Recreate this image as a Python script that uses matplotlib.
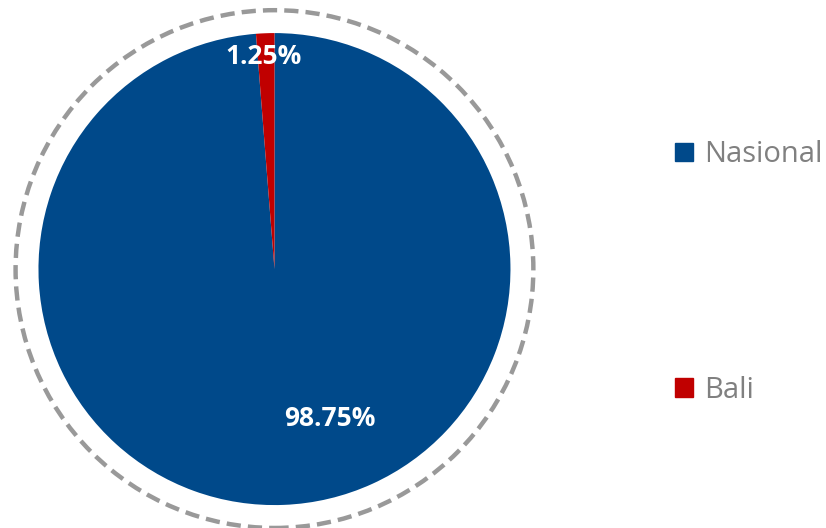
import matplotlib
matplotlib.use("Agg")
import matplotlib.pyplot as plt
from matplotlib.patches import Circle, Patch

categories = ["Nasional", "Bali"]
values = [98.75, 1.25]
colors = ["#00498A", "#C00000"]

fig = plt.figure(figsize=(8.26, 5.28), dpi=100)
ax = fig.add_axes([0, 0, 1, 1])

wedges, texts, autotexts = ax.pie(
    values, colors=colors, startangle=90, counterclock=False,
    radius=1.0, center=(0, 0), autopct=lambda p: f"{p:.2f}%",
    pctdistance=0.7, frame=True,
    wedgeprops=dict(linewidth=0),
    textprops=dict(color="white", fontsize=19, fontweight="bold",
                   family=["Open Sans", "DejaVu Sans"]))
ax.set_xlim(-1.163, 2.337)
ax.set_ylim(-1.097, 1.140)
ax.axis("off")
# label placement as in the reference
autotexts[0].set_position((0.235, -0.635))
autotexts[1].set_position((-0.048, 0.90))

ring = Circle((0, 0), 1.097, fill=False, edgecolor="#999999", linewidth=3.2,
              linestyle=(0, (3.2, 1.6)))
ax.add_patch(ring)

handles = [Patch(facecolor=c, edgecolor=c) for c in colors]
leg = fig.legend(handles, categories, loc="upper left", bbox_to_anchor=(0.786, 0.784),
                 frameon=False, labelspacing=7.08,
                 handlelength=0.6, handleheight=0.6, handletextpad=0.38,
                 prop=dict(family=["Open Sans", "DejaVu Sans"], size=21))
for t in leg.get_texts():
    t.set_color("#808080")

fig.savefig("out.png", dpi=100)
